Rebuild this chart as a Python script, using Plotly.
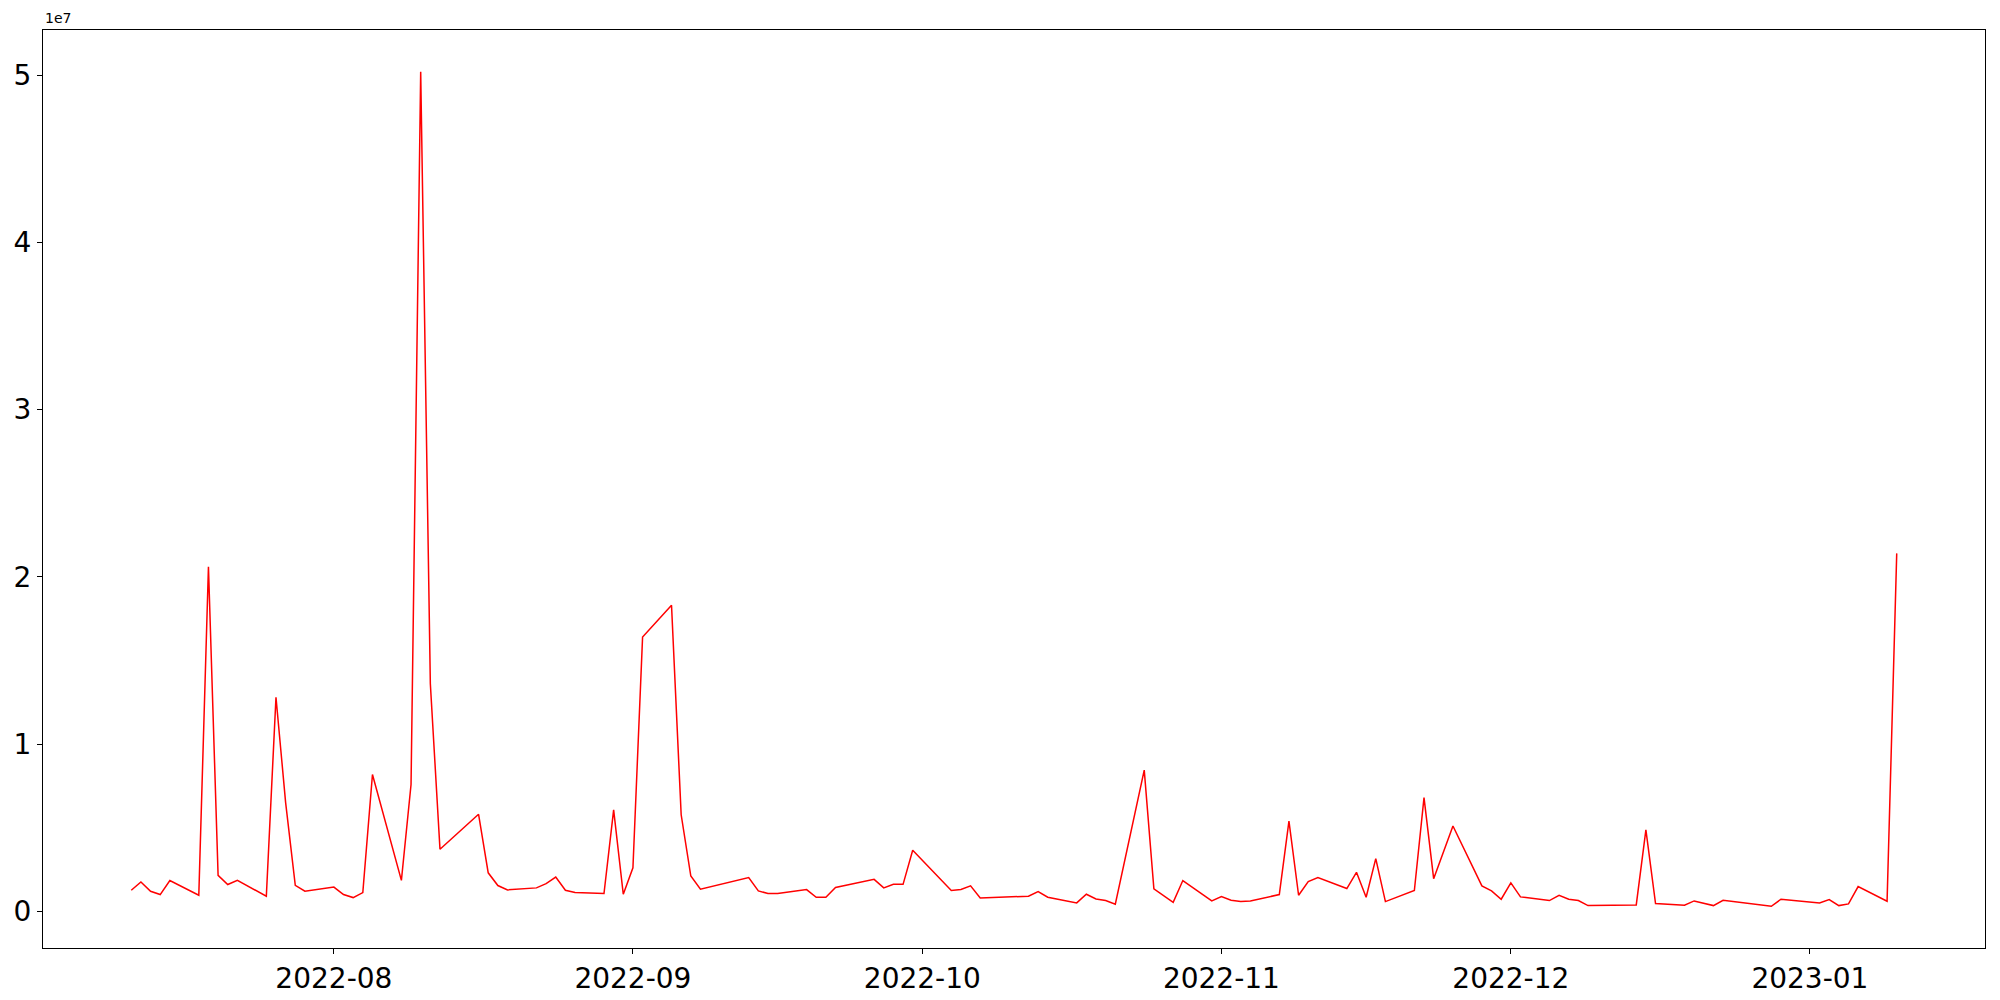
import plotly.graph_objects as go
import pandas as pd

dates = [
    "2022-07-11", "2022-07-12", "2022-07-13", "2022-07-14", "2022-07-15",
    "2022-07-18", "2022-07-19", "2022-07-20", "2022-07-21", "2022-07-22",
    "2022-07-25", "2022-07-26", "2022-07-27", "2022-07-28", "2022-07-29",
    "2022-08-01", "2022-08-02", "2022-08-03", "2022-08-04", "2022-08-05",
    "2022-08-08", "2022-08-09", "2022-08-10", "2022-08-11", "2022-08-12",
    "2022-08-16", "2022-08-17", "2022-08-18", "2022-08-19",
    "2022-08-22", "2022-08-23", "2022-08-24", "2022-08-25", "2022-08-26",
    "2022-08-29", "2022-08-30", "2022-08-31", "2022-09-01", "2022-09-02",
    "2022-09-05", "2022-09-06", "2022-09-07", "2022-09-08",
    "2022-09-13", "2022-09-14", "2022-09-15", "2022-09-16",
    "2022-09-19", "2022-09-20", "2022-09-21", "2022-09-22",
    "2022-09-26", "2022-09-27", "2022-09-28", "2022-09-29", "2022-09-30",
    "2022-10-04", "2022-10-05", "2022-10-06", "2022-10-07",
    "2022-10-12", "2022-10-13", "2022-10-14",
    "2022-10-17", "2022-10-18", "2022-10-19", "2022-10-20", "2022-10-21",
    "2022-10-24", "2022-10-25", "2022-10-27", "2022-10-28",
    "2022-10-31", "2022-11-01", "2022-11-02", "2022-11-03", "2022-11-04",
    "2022-11-07", "2022-11-08", "2022-11-09", "2022-11-10", "2022-11-11",
    "2022-11-14", "2022-11-15", "2022-11-16", "2022-11-17", "2022-11-18",
    "2022-11-21", "2022-11-22", "2022-11-23", "2022-11-25",
    "2022-11-28", "2022-11-29", "2022-11-30", "2022-12-01", "2022-12-02",
    "2022-12-05", "2022-12-06", "2022-12-07", "2022-12-08", "2022-12-09",
    "2022-12-12", "2022-12-13", "2022-12-14", "2022-12-15", "2022-12-16",
    "2022-12-19", "2022-12-20", "2022-12-22", "2022-12-23",
    "2022-12-28", "2022-12-29",
    "2023-01-02", "2023-01-03", "2023-01-04", "2023-01-05", "2023-01-06",
    "2023-01-09", "2023-01-10",
]

volume = [
    1.26e6, 1.75e6, 1.20e6, 1.00e6, 1.84e6,
    0.96e6, 20.6e6, 2.15e6, 1.60e6, 1.85e6,
    0.90e6, 12.8e6, 6.5e6, 1.55e6, 1.20e6,
    1.45e6, 1.00e6, 0.82e6, 1.12e6, 8.18e6,
    1.85e6, 7.58e6, 50.2e6, 13.6e6, 3.71e6,
    5.80e6, 2.30e6, 1.54e6, 1.28e6,
    1.40e6, 1.65e6, 2.05e6, 1.26e6, 1.12e6,
    1.06e6, 6.06e6, 1.02e6, 2.60e6, 16.4e6,
    18.3e6, 5.77e6, 2.11e6, 1.32e6,
    2.02e6, 1.22e6, 1.06e6, 1.06e6,
    1.30e6, 0.84e6, 0.84e6, 1.42e6,
    1.91e6, 1.40e6, 1.61e6, 1.61e6, 3.65e6,
    1.24e6, 1.30e6, 1.52e6, 0.80e6,
    0.90e6, 1.18e6, 0.84e6,
    0.50e6, 1.02e6, 0.74e6, 0.64e6, 0.42e6,
    8.44e6, 1.34e6, 0.54e6, 1.84e6,
    0.62e6, 0.88e6, 0.66e6, 0.58e6, 0.62e6,
    1.00e6, 5.39e6, 0.96e6, 1.78e6, 2.02e6,
    1.36e6, 2.33e6, 0.84e6, 3.15e6, 0.58e6,
    1.24e6, 6.80e6, 1.95e6, 5.10e6,
    1.52e6, 1.22e6, 0.72e6, 1.70e6, 0.86e6,
    0.64e6, 0.96e6, 0.72e6, 0.64e6, 0.34e6,
    0.38e6, 0.40e6, 0.38e6, 4.87e6, 0.46e6,
    0.36e6, 0.62e6, 0.34e6, 0.66e6,
    0.30e6, 0.72e6,
    0.50e6, 0.70e6, 0.34e6, 0.44e6, 1.48e6,
    0.60e6, 21.4e6,
]

x_tick_vals = ["2022-08-01", "2022-09-01", "2022-10-01", "2022-11-01", "2022-12-01", "2023-01-01"]
x_tick_text = ["2022-08", "2022-09", "2022-10", "2022-11", "2022-12", "2023-01"]
y_tick_vals = [0, 1e7, 2e7, 3e7, 4e7, 5e7]
y_tick_text = ["0", "1", "2", "3", "4", "5"]

dt = pd.to_datetime(dates)
span = dt.max() - dt.min()
xr = [dt.min() - span * 0.05, dt.max() + span * 0.05]
ymin, ymax = min(volume), max(volume)
ys = ymax - ymin
yr = [ymin - ys * 0.05, ymax + ys * 0.05]

fig = go.Figure()
fig.add_trace(go.Scatter(x=dt, y=volume, mode="lines",
                         line=dict(color="#ff0000", width=1.5), showlegend=False))

font = dict(family="DejaVu Sans", size=28, color="black")
fig.update_layout(
    width=2000, height=1000,
    margin=dict(l=35, r=23, t=22, b=60),
    paper_bgcolor="white", plot_bgcolor="white",
    font=font,
    xaxis=dict(range=xr, tickvals=pd.to_datetime(x_tick_vals), ticktext=x_tick_text,
               showgrid=False, zeroline=False, showline=True, mirror=True,
               linecolor="black", linewidth=1.1, ticks="outside", ticklen=5,
               tickwidth=1.1, tickcolor="black", tickfont=font, automargin=False),
    yaxis=dict(range=yr, tickvals=y_tick_vals, ticktext=y_tick_text,
               showgrid=False, zeroline=False, showline=True, mirror=True,
               linecolor="black", linewidth=1.1, ticks="outside", ticklen=5,
               tickwidth=1.1, tickcolor="black", tickfont=font, automargin=False),
    annotations=[dict(text="1e7", xref="paper", yref="paper", x=0, y=1,
                      xanchor="left", yanchor="bottom", showarrow=False,
                      yshift=2, font=dict(family="DejaVu Sans", size=14, color="black"))],
)

fig.write_html("out.html")
